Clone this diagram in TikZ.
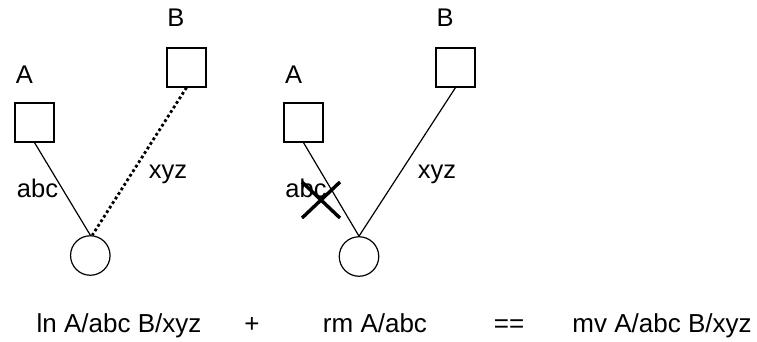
\documentclass[tikz,border=0pt]{standalone}
\usepackage{fontspec}
\setmainfont{Liberation Sans}
\begin{document}
\begin{tikzpicture}[x=1pt,y=-1pt,
  box/.style={draw,line width=1.2pt,minimum size=39pt,inner sep=0pt},
  ring/.style={draw,circle,line width=1.2pt,minimum size=39.5pt,inner sep=0pt},
  lbl/.style={anchor=base,inner sep=0pt,font=\fontsize{25.5}{30}\selectfont},
  eq/.style={anchor=base,inner sep=0pt,font=\fontsize{26}{31}\selectfont},
  edge/.style={line width=1.2pt},
  dotedge/.style={line width=2.8pt,dash pattern=on 2.8pt off 2.6pt},
  xmark/.style={line width=3.4pt}]
\useasboundingbox (0,0) rectangle (757,342);
% left diagram
\node[box] (A1) at (34.5,122.5) {};
\node[box] (B1) at (186.5,67.5) {};
\node[ring] (C1) at (90.3,255.5) {};
\node[lbl] (la1) at (24.5,84) {A};
\node[lbl] (lb1) at (176,27) {B};
\node[lbl] (abc1) at (37.5,197) {abc};
\node[lbl] (xyz1) at (168,178) {xyz};
\draw[edge] (A1.south) -- (C1.north);
\draw[dotedge] (B1.south) -- ([xshift=2pt]C1.north);
% right diagram
\node[box] (A2) at (303.5,122.5) {};
\node[box] (B2) at (455.5,67.5) {};
\node[ring] (C2) at (359,256.5) {};
\node[lbl] (la2) at (293.5,84) {A};
\node[lbl] (lb2) at (445,27) {B};
\node[lbl] (abc2) at (306,197) {abc};
\node[lbl] (xyz2) at (437,178) {xyz};
\draw[edge] (A2.south) -- (C2.north);
\draw[edge] (B2.south) -- (C2.north);
\draw[xmark] (302,182) -- (340,218);
\draw[xmark] (302,218) -- (340,182);
% equation
\node[eq] (e1) at (119,332) {ln A/abc B/xyz};
\node[eq] (e2) at (252,332) {+};
\node[eq] (e3) at (375,332) {rm A/abc};
\node[eq] (e4) at (509,332) {==};
\node[eq] (e5) at (662,332) {mv A/abc B/xyz};
\end{tikzpicture}
\end{document}
